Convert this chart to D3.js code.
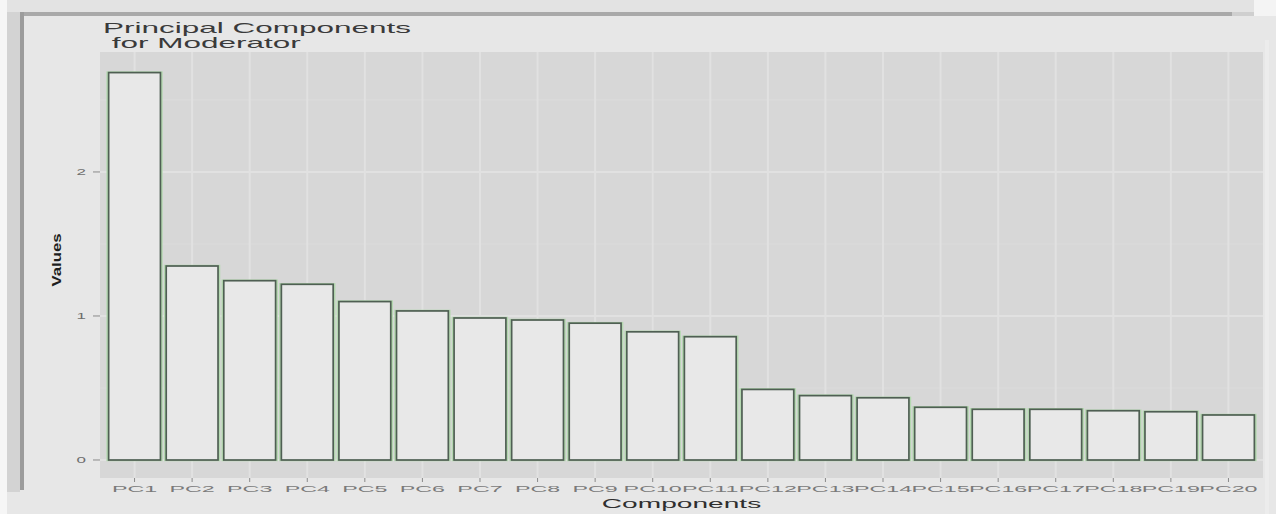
<!DOCTYPE html>
<html>
<head>
<meta charset="utf-8">
<script src="https://cdn.jsdelivr.net/npm/d3@7"></script>
<style>
  html, body { margin: 0; padding: 0; background: #e7e7e7; }
  svg { display: block; }
  text { font-family: "Liberation Sans", Arial, Helvetica, sans-serif; }
</style>
</head>
<body>
<svg id="chart" width="1276" height="514"></svg>
<script>
// ---- data ----
const categories = ["PC1","PC2","PC3","PC4","PC5","PC6","PC7","PC8","PC9","PC10",
                    "PC11","PC12","PC13","PC14","PC15","PC16","PC17","PC18","PC19","PC20"];
const values = [2.69, 1.347, 1.245, 1.22, 1.10, 1.035, 0.986, 0.972, 0.95, 0.89,
                0.856, 0.49, 0.447, 0.432, 0.366, 0.352, 0.352, 0.342, 0.335, 0.3125];
const yTicks = [0, 1, 2];
const yMinor = [0.5, 1.5, 2.5];
const titleLines = ["Principal Components", " for Moderator"];
const xTitle = "Components";
const yTitle = "Values";

// ---- layout ----
const W = 1276, H = 514;
const panel = { left: 100, right: 1263, top: 52, bottom: 478 };
const SX = 2.25; // horizontal stretch of text in the reference

const svg = d3.select("#chart");

// frame decoration
svg.append("rect").attr("x", 0).attr("y", 0).attr("width", W).attr("height", H).attr("fill", "#e7e7e7");
svg.append("rect").attr("x", 0).attr("y", 0).attr("width", W).attr("height", 12).attr("fill", "#e3e3e3");
svg.append("rect").attr("x", 0).attr("y", 0).attr("width", 7).attr("height", H).attr("fill", "#f6f6f6");
svg.append("rect").attr("x", 7).attr("y", 12).attr("width", 13).attr("height", 480).attr("fill", "#d3d3d3");
svg.append("rect").attr("x", 20).attr("y", 12).attr("width", 1212).attr("height", 4).attr("fill", "#a9a9a9");
svg.append("rect").attr("x", 1232).attr("y", 12).attr("width", 22).attr("height", 4).attr("fill", "#cfcfcf");
svg.append("rect").attr("x", 1254).attr("y", 0).attr("width", 22).attr("height", 16).attr("fill", "#f4f4f4");
svg.append("rect").attr("x", 20).attr("y", 12).attr("width", 4).attr("height", 478).attr("fill", "#9c9c9c");
svg.append("rect").attr("x", 1265).attr("y", 40).attr("width", 4).attr("height", 474).attr("fill", "#ececec");

// scales
const x = d3.scaleBand().domain(categories)
  .range([panel.left, panel.right]).paddingInner(0.1).paddingOuter(0.15);
const y = d3.scaleLinear().domain([-0.125, 2.833]).range([panel.bottom, panel.top]);

// panel
svg.append("rect").attr("x", panel.left).attr("y", panel.top)
  .attr("width", panel.right - panel.left).attr("height", panel.bottom - panel.top)
  .attr("fill", "#d7d7d7");

const grid = svg.append("g");
grid.selectAll("line.minor").data(yMinor).join("line")
  .attr("x1", panel.left).attr("x2", panel.right)
  .attr("y1", d => y(d)).attr("y2", d => y(d))
  .attr("stroke", "#dcdcdc").attr("stroke-width", 1);
grid.selectAll("line.major").data(yTicks).join("line")
  .attr("x1", panel.left).attr("x2", panel.right)
  .attr("y1", d => y(d)).attr("y2", d => y(d))
  .attr("stroke", "#e1e1e1").attr("stroke-width", 2);
grid.selectAll("line.vx").data(categories).join("line")
  .attr("x1", d => x(d) + x.bandwidth() / 2).attr("x2", d => x(d) + x.bandwidth() / 2)
  .attr("y1", panel.top).attr("y2", panel.bottom)
  .attr("stroke", "#e1e1e1").attr("stroke-width", 2);

// bars
const bars = svg.append("g");
bars.selectAll("rect.glow").data(categories).join("rect")
  .attr("x", d => x(d) - 1).attr("y", (d, i) => y(values[i]))
  .attr("width", x.bandwidth() + 2).attr("height", (d, i) => y(0) - y(values[i]))
  .attr("fill", "none").attr("stroke", "#b4d8b0").attr("stroke-width", 2.5);
bars.selectAll("rect.bar").data(categories).join("rect")
  .attr("x", d => x(d)).attr("y", (d, i) => y(values[i]))
  .attr("width", x.bandwidth()).attr("height", (d, i) => y(0) - y(values[i]))
  .attr("fill", "#e8e8e8").attr("stroke", "#4f5f53").attr("stroke-width", 1.7);

// helper for stretched text
function stretchedText(g, txt, tx, ty, opts) {
  const t = g.append("text")
    .attr("transform", `translate(${tx},${ty}) ${opts.rotate ? "rotate(" + opts.rotate + ")" : ""} scale(${opts.sx || SX},${opts.sy || 1})`)
    .attr("text-anchor", opts.anchor || "start")
    .attr("font-size", opts.size)
    .attr("fill", opts.color || "#333")
    .style("white-space", "pre")
    .text(txt);
  if (opts.weight) t.attr("font-weight", opts.weight);
  return t;
}

// x axis ticks & labels
const xa = svg.append("g");
xa.selectAll("line").data(categories).join("line")
  .attr("x1", d => x(d) + x.bandwidth() / 2).attr("x2", d => x(d) + x.bandwidth() / 2)
  .attr("y1", panel.bottom).attr("y2", panel.bottom + 4)
  .attr("stroke", "#8a8a8a").attr("stroke-width", 1);
categories.forEach(c => {
  stretchedText(xa, c, x(c) + x.bandwidth() / 2, 492, { size: 9.5, anchor: "middle", color: "#7a7a7a", sx: 2.45 });
});

// y axis ticks & labels
const ya = svg.append("g");
ya.selectAll("line").data(yTicks).join("line")
  .attr("x1", panel.left - 7).attr("x2", panel.left)
  .attr("y1", d => y(d)).attr("y2", d => y(d))
  .attr("stroke", "#8a8a8a").attr("stroke-width", 1);
yTicks.forEach(v => {
  stretchedText(ya, String(v), 86, y(v) + 3.5, { size: 8.5, anchor: "end", color: "#6e6e6e", sx: 2.0 });
});

// titles
stretchedText(svg, titleLines[0], 103, 33, { size: 14, color: "#3a3a3a" });
stretchedText(svg, titleLines[1], 103, 47.5, { size: 14, color: "#3a3a3a" });
stretchedText(svg, xTitle, (panel.left + panel.right) / 2, 508, { size: 12.5, anchor: "middle", color: "#2e2e2e" });
stretchedText(svg, yTitle, 61, (panel.top + panel.bottom) / 2 - 5, { size: 12, anchor: "middle", color: "#1e1e1e", rotate: -90, sx: 1.4, sy: 1, weight: "bold" });
</script>
</body>
</html>
